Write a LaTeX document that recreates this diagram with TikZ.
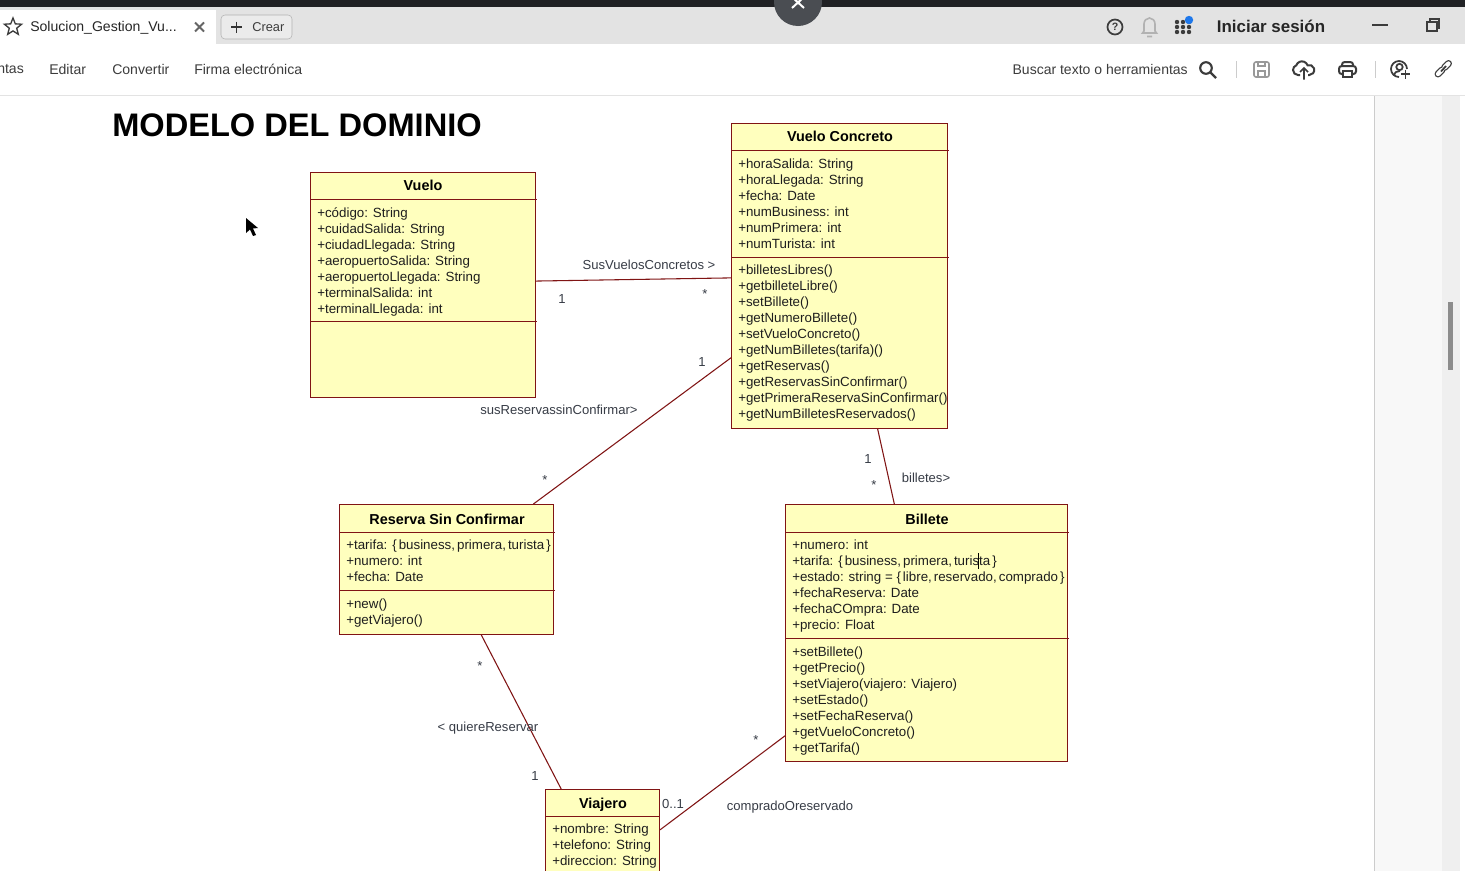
\documentclass[tikz,border=0pt]{standalone}
\usepackage{fontspec}
\setmainfont{Liberation Sans}
\usetikzlibrary{shapes.geometric}
\definecolor{umlline}{RGB}{128,20,20}
\definecolor{umlfill}{RGB}{255,255,190}
\definecolor{umltext}{RGB}{30,30,30}
\definecolor{umllabel}{RGB}{55,60,70}
\definecolor{barblack}{RGB}{32,33,36}
\definecolor{closegray}{RGB}{74,77,82}
\definecolor{tabgray}{RGB}{227,227,227}
\definecolor{uitext}{RGB}{60,60,60}
\definecolor{panelgray}{RGB}{248,248,248}
\definecolor{trackgray}{RGB}{239,239,239}
\definecolor{notifyblue}{RGB}{30,120,235}
\newcommand{\listgap}{\kern1.5pt}
\tikzset{
    classbox/.style={draw=umlline,fill=umlfill,line width=0.75pt,inner sep=0pt,anchor=north west},
    classline/.style={draw=umlline,line width=0.75pt},
    classtitle/.style={font=\fontsize{10.8}{12}\selectfont\bfseries,text=black,inner sep=0pt,text depth=0pt},
    classtext/.style={font=\fontsize{10}{12}\selectfont,text=umltext,align=left,anchor=north west,inner sep=0pt},
    assoc/.style={draw=umlline,line width=0.8pt},
    assoclabel/.style={font=\fontsize{9.8}{12}\selectfont,text=umllabel,inner sep=0pt,text depth=0pt},
    uilabel/.style={font=\fontsize{10.55}{12}\selectfont,text=uitext,inner sep=0pt},
    uiicon/.style={draw=uitext,line width=1.3pt}
}
\begin{document}
\begin{tikzpicture}[x=0.75pt,y=-0.75pt]
    \clip (0,0) rectangle (1465,871);
    \fill[white] (0,0) rectangle (1465,871);

    % browser bars
    \fill[barblack] (0,0) rectangle (1465,7);
    \fill[tabgray] (0,7) rectangle (1465,44);
    \fill[white] (0,10) rectangle (216,44);
    \fill[closegray] (798,2) circle (24);
    \draw[white,line width=1.5pt] (792,-3) -- (804,8) (804,-3) -- (792,8);
    \draw[tabgray] (0,95) -- (1374,95);
    \fill[panelgray] (1375,96) rectangle (1442,871);
    \fill[trackgray] (1442,96) rectangle (1460,871);
    \draw[black!20] (1374,95) -- (1374,871);
    \draw[tabgray] (1374,95) -- (1465,95);
    \fill[black!45] (1448,302) rectangle (1453,370);

    % tab and menu
    \node[star,star points=5,star point ratio=2.3,draw=uitext,line width=1pt,minimum size=13.5pt,inner sep=0pt] (tabstar) at (13,27) {};
    \node[uilabel,text=black!85,anchor=base west] (tabname) at (30,31) {Solucion\_Gestion\_Vu...};
    \draw[black!60,line width=1.4pt] (195,22.5) -- (204,31.5) (204,22.5) -- (195,31.5);
    \draw[black!30,fill=tabgray!70!white,rounded corners=3pt] (221,15) rectangle (292,39);
    \draw[black!80,line width=1pt] (231,27) -- (242,27) (236.5,21.5) -- (236.5,32.5);
    \node[uilabel,font=\fontsize{9.6}{12}\selectfont,anchor=west] (crear) at (252,27) {Crear};
    \node[uilabel,anchor=west] (herramientas) at (-3,69) {ntas};
    \node[uilabel,anchor=west] (editar) at (49,69) {Editar};
    \node[uilabel,anchor=west] (convertir) at (112,69) {Convertir};
    \node[uilabel,anchor=west] (firma) at (194,69) {Firma electrónica};

    % top right
    \draw[uiicon] (1115,27) circle (7.5);
    \node[font=\fontsize{8}{9}\selectfont\bfseries,text=uitext,inner sep=0pt] (ayuda) at (1115,27) {?};
    \draw[black!30,line width=1.2pt] (1142.5,33) -- (1144,31) -- (1144,24) arc (180:360:5.5 and 6) -- (1155,31) -- (1156.5,33) -- cycle (1147,36.5) -- (1152,36.5);
    \foreach \x in {1177,1183,1189} {
        \foreach \y in {22,27,32} {
            \fill[uitext] (\x,\y) circle (2.2);
        }
    }
    \fill[notifyblue] (1189,20) circle (4.2);
    \node[font=\fontsize{12.7}{14}\selectfont\bfseries,text=black!85,inner sep=0pt] (login) at (1271,26.5) {Iniciar sesión};
    \draw[uitext,line width=1.2pt] (1372,25) -- (1388,25);
    \draw[uitext,line width=1pt] (1427,22) rectangle (1437,31);
    \draw[uitext,line width=1pt] (1430,22) -- (1430,19) -- (1439,19) -- (1439,28) -- (1437,28);

    \node[uilabel,font=\fontsize{10.5}{12}\selectfont,anchor=east] (buscar) at (1188,69) {Buscar texto o herramientas};
    \draw[uiicon,line width=1.6pt] (1206,68) circle (5.8) (1210.5,72.5) -- (1216,78);
    \draw[black!20] (1236,61) -- (1236,78);
    \draw[black!40,line width=1.2pt,rounded corners=1.5pt] (1254,62) rectangle (1269,77);
    \draw[black!40,line width=1pt] (1258,62) -- (1258,66) -- (1265,66) -- (1265,62) (1258,77) -- (1258,71) -- (1265,71) -- (1265,77);
    \draw[uiicon,line width=1.5pt] (1300,75) -- (1298,75) arc (90:250:5) arc (200:340:6) arc (250:450:5) -- (1308,75);
    \draw[uiicon] (1304,79.5) -- (1304,68) (1300,72) -- (1304,68) -- (1308,72);
    \draw[uiicon,rounded corners=2pt,line width=1.5pt] (1342,66) -- (1342,62) -- (1353,62) -- (1353,66) (1343,74) -- (1339,74) -- (1339,66) -- (1356,66) -- (1356,74) -- (1352,74);
    \draw[uiicon,line width=1.5pt] (1343,71) rectangle (1352,77);
    \draw[black!20] (1375,61) -- (1375,78);
    \draw[uiicon] (1399,77) arc (90:360:8);
    \draw[uiicon] (1399.5,67) circle (3.2);
    \draw[uiicon] (1394,76) .. controls (1394.5,72) and (1397,71) .. (1400,71);
    \draw[uiicon] (1401,74) -- (1410,74) (1405.5,69.5) -- (1405.5,78.5);
    \draw[uitext,line width=5.2pt,line cap=round] (1438,74) -- (1442,70) (1444.5,67.5) -- (1448.5,63.5);
    \draw[white,line width=3.2pt,line cap=round] (1438,74) -- (1442,70) (1444.5,67.5) -- (1448.5,63.5);
    \draw[uitext,line width=1.3pt] (1441,71.5) -- (1446,66);

    % title and mouse
    \node[font=\fontsize{24.45}{28}\selectfont\bfseries,text=black,inner sep=0pt,anchor=west] (titulo) at (112,125) {MODELO DEL DOMINIO};
    \fill[black] (246,218) -- (246,233) -- (250,229.5) -- (253,236) -- (256,235) -- (253,228.5) -- (258,228) -- cycle;

    % Vuelo
    \node[classbox,minimum width=225*0.75pt,minimum height=225*0.75pt] (vuelo) at (310,172) {};
    \draw[classline] (310,199) -- (537,199);
    \draw[classline] (310,321) -- (537,321);
    \node[classtitle] (vuelotitle) at (423,185) {Vuelo};
    \node[classtext] (vueloattrs) at (317,207.5) {+código: String\\+cuidadSalida: String\\+ciudadLlegada: String\\+aeropuertoSalida: String\\+aeropuertoLlegada: String\\+terminalSalida: int\\+terminalLlegada: int};

    % Vuelo Concreto
    \node[classbox,minimum width=216*0.75pt,minimum height=305*0.75pt] (concreto) at (731,123) {};
    \draw[classline] (731,150) -- (949,150);
    \draw[classline] (731,257) -- (949,257);
    \node[classtitle] (concretotitle) at (840,136) {Vuelo Concreto};
    \node[classtext] (concretoattrs) at (738,159) {+horaSalida: String\\+horaLlegada: String\\+fecha: Date\\+numBusiness: int\\+numPrimera: int\\+numTurista: int};
    \node[classtext] (concretomethods) at (738,265) {+billetesLibres()\\+getbilleteLibre()\\+setBillete()\\+getNumeroBillete()\\+setVueloConcreto()\\+getNumBilletes(tarifa)()\\+getReservas()\\+getReservasSinConfirmar()\\+getPrimeraReservaSinConfirmar()\\+getNumBilletesReservados()};

    % Reserva Sin Confirmar
    \node[classbox,minimum width=214*0.75pt,minimum height=130*0.75pt] (reserva) at (339,504) {};
    \draw[classline] (339,532) -- (555,532);
    \draw[classline] (339,590) -- (555,590);
    \node[classtitle] (reservatitle) at (447,519) {Reserva Sin Confirmar};
    \node[classtext] (reservaattrs) at (346,540) {+tarifa: \{\listgap business,\listgap primera,\listgap turista\listgap\}\\+numero: int\\+fecha: Date};
    \node[classtext] (reservamethods) at (346,599) {+new()\\+getViajero()};

    % Billete
    \node[classbox,minimum width=282*0.75pt,minimum height=257*0.75pt] (billete) at (785,504) {};
    \draw[classline] (785,532) -- (1069,532);
    \draw[classline] (785,638) -- (1069,638);
    \node[classtitle] (billetetitle) at (927,519) {Billete};
    \node[classtext] (billeteattrs) at (792,540) {+numero: int\\+tarifa: \{\listgap business,\listgap primera,\listgap turista\listgap\}\\+estado: string = \{\listgap libre,\listgap reservado,\listgap comprado\listgap\}\\+fechaReserva: Date\\+fechaCOmpra: Date\\+precio: Float};
    \node[classtext] (billetemethods) at (792,647) {+setBillete()\\+getPrecio()\\+setViajero(viajero: Viajero)\\+setEstado()\\+setFechaReserva()\\+getVueloConcreto()\\+getTarifa()};
    \draw[black,line width=0.5pt] (978,553) -- (978,569);

    % Viajero
    \node[classbox,minimum width=114*0.75pt,minimum height=101*0.75pt] (viajero) at (545,789) {};
    \draw[classline] (545,816) -- (660,816);
    \node[classtitle] (viajerotitle) at (603,803) {Viajero};
    \node[classtext] (viajeroattrs) at (552,824) {+nombre: String\\+telefono: String\\+direccion: String};

    % associations
    \draw[assoc] (vuelo.2.2) -- (concreto.181.8);
    \draw[assoc] (concreto.217.4) -- (reserva.37.2);
    \draw[assoc] (concreto.-76.9) -- (billete.104.6);
    \draw[assoc] (reserva.-62.2) -- (viajero.129.4);
    \draw[assoc] (billete.216) -- (viajero.10.3);

    \node[assoclabel] (lblsusvuelos) at (649,265) {SusVuelosConcretos >};
    \node[assoclabel] (lblvuelouno) at (562,299.5) {1};
    \node[assoclabel] (lblconcretomuchos) at (705,294) {*};
    \node[assoclabel] (lblconcretouno) at (702,362.5) {1};
    \node[assoclabel] (lblsusreservas) at (559,410) {susReservassinConfirmar>};
    \node[assoclabel] (lblreservamuchos) at (545,480) {*};
    \node[assoclabel] (lblbilletesuno) at (868,459.5) {1};
    \node[assoclabel] (lblbilletesmuchos) at (874,485) {*};
    \node[assoclabel] (lblbilletes) at (926,478) {billetes>};
    \node[assoclabel] (lblquieremuchos) at (480,666) {*};
    \node[assoclabel] (lblquiere) at (488,727) {< quiereReservar};
    \node[assoclabel] (lblviajerouno) at (535,775.5) {1};
    \node[assoclabel] (lblcerouno) at (673,804) {0..1};
    \node[assoclabel] (lblcompradomuchos) at (756,740) {*};
    \node[assoclabel] (lblcomprado) at (790,806) {compradoOreservado};
\end{tikzpicture}
\end{document}
